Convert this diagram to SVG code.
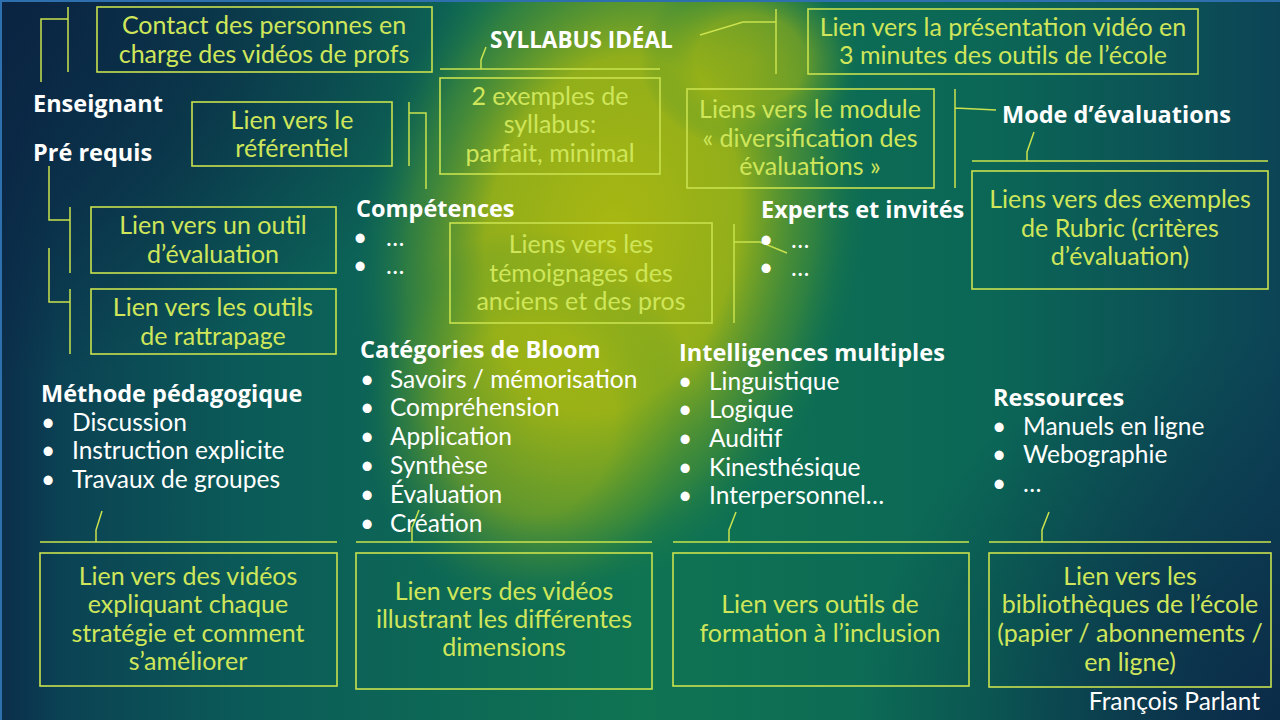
<svg xmlns="http://www.w3.org/2000/svg" width="1280" height="720" viewBox="0 0 1280 720">
<defs>
<linearGradient id="bg" x1="0" y1="0" x2="1" y2="0">
<stop offset="0" stop-color="#0b3a52"/>
<stop offset="0.2" stop-color="#0b5c58"/>
<stop offset="0.5" stop-color="#0f7452"/>
<stop offset="0.78" stop-color="#0b6656"/>
<stop offset="1" stop-color="#0c4456"/>
</linearGradient>
<radialGradient id="glow" cx="0.5" cy="0.5" r="0.5">
<stop offset="0" stop-color="#a9b711"/>
<stop offset="0.5" stop-color="#a0b514" stop-opacity="0.9"/>
<stop offset="0.8" stop-color="#5a9a2a" stop-opacity="0.45"/>
<stop offset="1" stop-color="#1a7a45" stop-opacity="0"/>
</radialGradient>
<radialGradient id="dkTL" cx="0" cy="0" r="1">
<stop offset="0" stop-color="#0a2442" stop-opacity="1"/>
<stop offset="0.55" stop-color="#0a2442" stop-opacity="0.55"/>
<stop offset="1" stop-color="#0a2442" stop-opacity="0"/>
</radialGradient>
<radialGradient id="dkBR" cx="1" cy="1" r="1">
<stop offset="0" stop-color="#0b2a48" stop-opacity="0.95"/>
<stop offset="1" stop-color="#0b2a48" stop-opacity="0"/>
</radialGradient>
<linearGradient id="dkL" x1="0" y1="0" x2="1" y2="0">
<stop offset="0" stop-color="#0b2c4a" stop-opacity="0.8"/>
<stop offset="1" stop-color="#0b2c4a" stop-opacity="0"/>
</linearGradient>
<style>
.box{fill:none;stroke:#c9e24e;stroke-width:1.6}
.bt{font-family:Lato,"Open Sans","Liberation Sans",sans-serif;font-size:25px;fill:#cfe65a;text-anchor:middle}
.h{font-family:"Open Sans",Lato,"Liberation Sans",sans-serif;font-weight:bold;font-size:23.5px;fill:#ffffff}
.li{font-family:Lato,"Open Sans","Liberation Sans",sans-serif;font-size:24.5px;fill:#ffffff}
#connectors path{fill:none;stroke:#c9e24e;stroke-width:1.5}
</style>
</defs>

<g id="background">
<rect width="1280" height="720" fill="url(#bg)"/>
<rect x="0" y="0" width="60" height="720" fill="url(#dkL)"/>
<rect x="0" y="0" width="480" height="380" fill="url(#dkTL)"/>
<rect x="860" y="330" width="420" height="390" fill="url(#dkBR)"/>
<ellipse cx="612" cy="235" rx="250" ry="360" transform="rotate(12 612 235)" fill="url(#glow)"/>
<ellipse cx="530" cy="420" rx="170" ry="190" fill="url(#glow)" opacity="0.5"/>
<ellipse cx="750" cy="60" rx="110" ry="90" fill="url(#glow)" opacity="0.6"/>
<line x1="0" y1="1" x2="1280" y2="1" stroke="#2e6fae" stroke-width="2"/>
<line x1="1" y1="0" x2="1" y2="720" stroke="#2e6fae" stroke-width="2"/>
</g>

<g id="connectors">
<path d="M68,7 V72 M68,19 H41 V82"/>
<path d="M409,102 V166 M409,113 H426 V189"/>
<path d="M49,166 V220 H70 M70,207 V273"/>
<path d="M49,248 V302 H70 M70,289 V354"/>
<path d="M486,47 L481,60 V69 M440,69 H660"/>
<path d="M700,35 L743,22 H776 M776,9 V74"/>
<path d="M955,89 V188 M955,108 L996,110"/>
<path d="M1034,132 L1027,152 V161 M972,161 H1268"/>
<path d="M734,224 V323 M734,242 H760 L787,253"/>
<path d="M102,511 L96,530 V542 M40,542 H337"/>
<path d="M419,510 L412,528 V542 M356,542 H652"/>
<path d="M736,512 L729,530 V542 M673,542 H969"/>
<path d="M1049,512 L1042,530 V542 M989,542 H1271"/>
</g>

<g id="contact">
<rect class="box" x="97" y="7" width="335" height="65"/>
<text class="bt" x="264" y="34">Contact des personnes en</text>
<text class="bt" x="264" y="63">charge des vidéos de profs</text>
</g>

<g id="enseignant"><text class="h" x="33" y="112">Enseignant</text></g>
<g id="prerequis"><text class="h" x="33" y="161">Pré requis</text></g>

<g id="referentiel">
<rect class="box" x="192" y="102" width="200" height="64"/>
<text class="bt" x="292" y="129">Lien vers le</text>
<text class="bt" x="292" y="157">référentiel</text>
</g>

<g id="outil-evaluation">
<rect class="box" x="91" y="207" width="245" height="66"/>
<text class="bt" x="213" y="234">Lien vers un outil</text>
<text class="bt" x="213" y="263">d’évaluation</text>
</g>

<g id="rattrapage">
<rect class="box" x="91" y="289" width="245" height="65"/>
<text class="bt" x="213" y="316">Lien vers les outils</text>
<text class="bt" x="213" y="345">de rattrapage</text>
</g>

<g id="syllabus-ideal"><text class="h" x="490" y="48" style="font-size:22.5px">SYLLABUS IDÉAL</text></g>

<g id="exemples-syllabus">
<rect class="box" x="440" y="78" width="220" height="96"/>
<text class="bt" x="550" y="105">2 exemples de</text>
<text class="bt" x="550" y="133">syllabus:</text>
<text class="bt" x="550" y="162">parfait, minimal</text>
</g>

<g id="presentation-video">
<rect class="box" x="808" y="9" width="390" height="65"/>
<text class="bt" x="1003" y="36">Lien vers la présentation vidéo en</text>
<text class="bt" x="1003" y="64">3 minutes des outils de l’école</text>
</g>

<g id="module-diversification">
<rect class="box" x="687" y="89" width="247" height="99"/>
<text class="bt" x="810" y="118">Liens vers le module</text>
<text class="bt" x="810" y="147">« diversification des</text>
<text class="bt" x="810" y="175">évaluations »</text>
</g>

<g id="mode-evaluations"><text class="h" x="1002" y="123">Mode d’évaluations</text></g>

<g id="rubric">
<rect class="box" x="972" y="171" width="296" height="118"/>
<text class="bt" x="1120" y="208">Liens vers des exemples</text>
<text class="bt" x="1120" y="237">de Rubric (critères</text>
<text class="bt" x="1120" y="265">d’évaluation)</text>
</g>

<g id="competences">
<text class="h" x="356" y="217">Compétences</text>
<text class="li" x="353" y="246">•</text><text class="li" x="386" y="246">…</text>
<text class="li" x="353" y="274">•</text><text class="li" x="386" y="274">…</text>
</g>

<g id="temoignages">
<rect class="box" x="450" y="223" width="262" height="100"/>
<text class="bt" x="581" y="253">Liens vers les</text>
<text class="bt" x="581" y="282">témoignages des</text>
<text class="bt" x="581" y="310">anciens et des pros</text>
</g>

<g id="experts">
<text class="h" x="761" y="218">Experts et invités</text>
<text class="li" x="759" y="248">•</text><text class="li" x="791" y="248">…</text>
<text class="li" x="759" y="276">•</text><text class="li" x="791" y="276">…</text>
</g>

<g id="methode">
<text class="h" x="41" y="402">Méthode pédagogique</text>
<text class="li" x="41" y="431">•</text><text class="li" x="72" y="431">Discussion</text>
<text class="li" x="41" y="459">•</text><text class="li" x="72" y="459">Instruction explicite</text>
<text class="li" x="41" y="488">•</text><text class="li" x="72" y="488">Travaux de groupes</text>
</g>

<g id="videos-strategie">
<rect class="box" x="40" y="553" width="297" height="133"/>
<text class="bt" x="188" y="585">Lien vers des vidéos</text>
<text class="bt" x="188" y="613">expliquant chaque</text>
<text class="bt" x="188" y="642">stratégie et comment</text>
<text class="bt" x="188" y="670">s’améliorer</text>
</g>

<g id="bloom">
<text class="h" x="360" y="358">Catégories de Bloom</text>
<text class="li" x="360" y="388">•</text><text class="li" x="390" y="388">Savoirs / mémorisation</text>
<text class="li" x="360" y="416">•</text><text class="li" x="390" y="416">Compréhension</text>
<text class="li" x="360" y="445">•</text><text class="li" x="390" y="445">Application</text>
<text class="li" x="360" y="474">•</text><text class="li" x="390" y="474">Synthèse</text>
<text class="li" x="360" y="503">•</text><text class="li" x="390" y="503">Évaluation</text>
<text class="li" x="360" y="532">•</text><text class="li" x="390" y="532">Création</text>
</g>

<g id="videos-dimensions">
<rect class="box" x="356" y="553" width="296" height="136"/>
<text class="bt" x="504" y="600">Lien vers des vidéos</text>
<text class="bt" x="504" y="628">illustrant les différentes</text>
<text class="bt" x="504" y="656">dimensions</text>
</g>

<g id="intelligences">
<text class="h" x="679" y="361">Intelligences multiples</text>
<text class="li" x="678" y="390">•</text><text class="li" x="709" y="390">Linguistique</text>
<text class="li" x="678" y="418">•</text><text class="li" x="709" y="418">Logique</text>
<text class="li" x="678" y="447">•</text><text class="li" x="709" y="447">Auditif</text>
<text class="li" x="678" y="476">•</text><text class="li" x="709" y="476">Kinesthésique</text>
<text class="li" x="678" y="504">•</text><text class="li" x="709" y="504">Interpersonnel…</text>
</g>

<g id="inclusion">
<rect class="box" x="673" y="553" width="296" height="133"/>
<text class="bt" x="820" y="613">Lien vers outils de</text>
<text class="bt" x="820" y="642">formation à l’inclusion</text>
</g>

<g id="ressources">
<text class="h" x="993" y="406">Ressources</text>
<text class="li" x="992" y="435">•</text><text class="li" x="1023" y="435">Manuels en ligne</text>
<text class="li" x="992" y="463">•</text><text class="li" x="1023" y="463">Webographie</text>
<text class="li" x="992" y="492">•</text><text class="li" x="1023" y="492">…</text>
</g>

<g id="bibliotheques">
<rect class="box" x="989" y="553" width="282" height="134"/>
<text class="bt" x="1130" y="585">Lien vers les</text>
<text class="bt" x="1130" y="613">bibliothèques de l’école</text>
<text class="bt" x="1130" y="642">(papier / abonnements /</text>
<text class="bt" x="1130" y="671">en ligne)</text>
</g>

<g id="auteur"><text class="li" x="1260" y="710" text-anchor="end">François Parlant</text></g>
</svg>
